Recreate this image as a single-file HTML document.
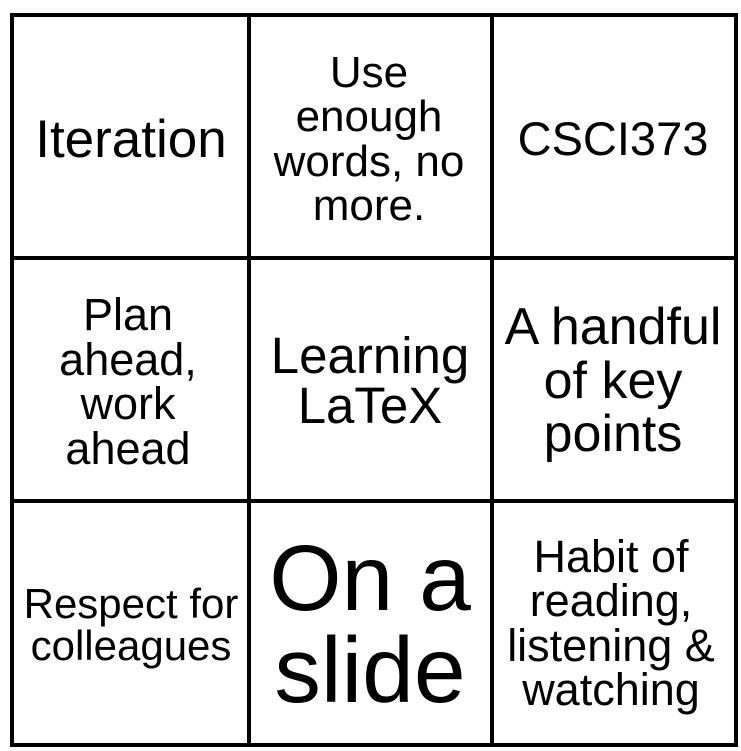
<!DOCTYPE html>
<html><head><style>html,body{margin:0;padding:0;background:#fff;}svg{display:block}</style></head>
<body>
<svg width="741" height="751" viewBox="0 0 741 751" xmlns="http://www.w3.org/2000/svg">
<rect width="741" height="751" fill="#fff"/>
<g stroke="#000" stroke-width="4" fill="none">
<rect x="12" y="15" width="724" height="730"/>
<line x1="249" y1="15" x2="249" y2="745"/>
<line x1="492" y1="15" x2="492" y2="745"/>
<line x1="12" y1="258" x2="736" y2="258"/>
<line x1="12" y1="501" x2="736" y2="501"/>
</g>
<g font-family="Liberation Sans, Arial, sans-serif" fill="#000" text-anchor="middle">
<text x="131" y="157" font-size="53">Iteration</text>
<g font-size="44"><text x="369" y="87">Use</text><text x="369" y="131">enough</text><text x="369" y="176">words, no</text><text x="369" y="220">more.</text></g>
<text x="613" y="155" font-size="47">CSCI373</text>
<g font-size="45"><text x="128" y="330">Plan</text><text x="128" y="375">ahead,</text><text x="128" y="419">work</text><text x="128" y="464">ahead</text></g>
<g font-size="51"><text x="370" y="373">Learning</text><text x="370" y="423">LaTeX</text></g>
<g font-size="52"><text x="613" y="344">A handful</text><text x="613" y="398">of key</text><text x="613" y="451">points</text></g>
<g font-size="42"><text x="131" y="618">Respect for</text><text x="131" y="660">colleagues</text></g>
<g font-size="93"><text x="370" y="610">On a</text><text x="370" y="702">slide</text></g>
<g font-size="45"><text x="611" y="572">Habit of</text><text x="611" y="616">reading,</text><text x="611" y="661">listening &amp;</text><text x="611" y="705">watching</text></g>
</g>
</svg>
</body></html>
